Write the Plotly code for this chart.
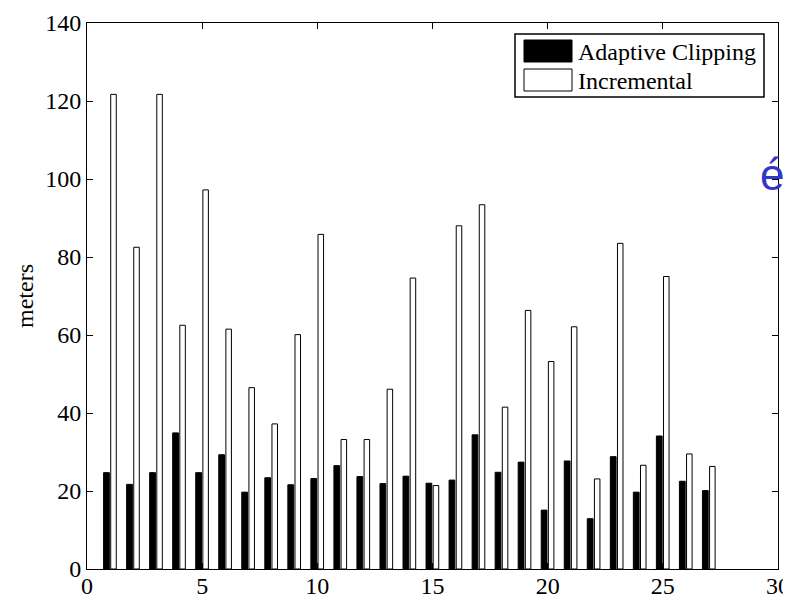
import plotly.graph_objects as go

runs = list(range(1, 28))
adaptive = [24.7, 21.7, 24.7, 34.9, 24.7, 29.3, 19.7, 23.4, 21.6, 23.2, 26.5, 23.7, 21.9,
            23.8, 22.0, 22.8, 34.4, 24.8, 27.4, 15.1, 27.7, 12.9, 28.8, 19.7, 34.1, 22.5, 20.1]
incremental = [121.7, 82.5, 121.7, 62.5, 97.2, 61.5, 46.5, 37.2, 60.1, 85.8, 33.2, 33.2, 46.1,
               74.6, 21.4, 88.0, 93.4, 41.5, 66.3, 53.2, 62.1, 23.1, 83.5, 26.6, 75.0, 29.5, 26.3]
series_names = ["Adaptive Clipping", "Incremental"]
x_ticks = [0, 5, 10, 15, 20, 25, 30]
y_ticks = [0, 20, 40, 60, 80, 100, 120, 140]

FONT = "Liberation Serif"
OFF = 8                      # page offset of the figure (body margin)
W, H = 783, 591
PL, PR, PT, PB = 87, 778, 23, 569   # plot area in page pixels
L, T = PL - OFF, PT - OFF
R = W - (PR - OFF)
B = H - (PB - OFF)
pw, ph = PR - PL, PB - PT

def px_x(p):
    return (p - PL) / pw

def px_y(p):
    return (PB - p) / ph

fig = go.Figure()
fig.add_trace(go.Bar(x=runs, y=adaptive, name=series_names[0], showlegend=False,
                     marker=dict(color="black", line=dict(color="black", width=1)),
                     width=0.25, offset=-0.28))
fig.add_trace(go.Bar(x=runs, y=incremental, name=series_names[1], showlegend=False,
                     marker=dict(color="white", line=dict(color="black", width=1)),
                     width=0.24, offset=0.03))

# legend drawn as MATLAB-style box with wide swatches
shapes = [
    dict(type="rect", xref="paper", yref="paper",
         x0=px_x(515), x1=px_x(764), y0=px_y(97), y1=px_y(34),
         fillcolor="white", line=dict(color="black", width=1.5), layer="above"),
    dict(type="rect", xref="paper", yref="paper",
         x0=px_x(524), x1=px_x(572), y0=px_y(62), y1=px_y(40),
         fillcolor="black", line=dict(color="black", width=1), layer="above"),
    dict(type="rect", xref="paper", yref="paper",
         x0=px_x(524), x1=px_x(572), y0=px_y(91), y1=px_y(69),
         fillcolor="white", line=dict(color="black", width=1), layer="above"),
]
annotations = [
    dict(text=series_names[0], xref="paper", yref="paper", x=px_x(576), y=px_y(52),
         xanchor="left", yanchor="middle", showarrow=False,
         font=dict(family=FONT, size=24, color="black")),
    dict(text=series_names[1], xref="paper", yref="paper", x=px_x(576), y=px_y(81),
         xanchor="left", yanchor="middle", showarrow=False,
         font=dict(family=FONT, size=24, color="black")),
    dict(text="é", xref="paper", yref="paper",
         x=px_x(772), y=px_y(174), xanchor="center", yanchor="middle",
         showarrow=False,
         font=dict(family="Liberation Sans", size=44, color="#3535c8")),
]

fig.update_layout(
    width=W, height=H,
    margin=dict(l=L, r=R, t=T, b=B, autoexpand=False),
    paper_bgcolor="white",
    plot_bgcolor="white",
    font=dict(family=FONT, size=24, color="black"),
    barmode="overlay",
    showlegend=False,
    shapes=shapes,
    annotations=annotations,
)
fig.update_xaxes(range=[0, 30], tickvals=x_ticks, ticks="inside", ticklen=6,
                 showline=True, linecolor="black", linewidth=1, mirror="ticks",
                 showgrid=False, zeroline=False, tickcolor="black",
                 ticklabelstandoff=-5,
                 tickfont=dict(family=FONT, size=24))
fig.update_yaxes(range=[0, 140], tickvals=y_ticks, ticks="inside", ticklen=6,
                 showline=True, linecolor="black", linewidth=1, mirror="ticks",
                 showgrid=False, zeroline=False, tickcolor="black",
                 tickfont=dict(family=FONT, size=24),
                 title=dict(text="meters", font=dict(family=FONT, size=24), standoff=4))

fig.write_html("out.html")
